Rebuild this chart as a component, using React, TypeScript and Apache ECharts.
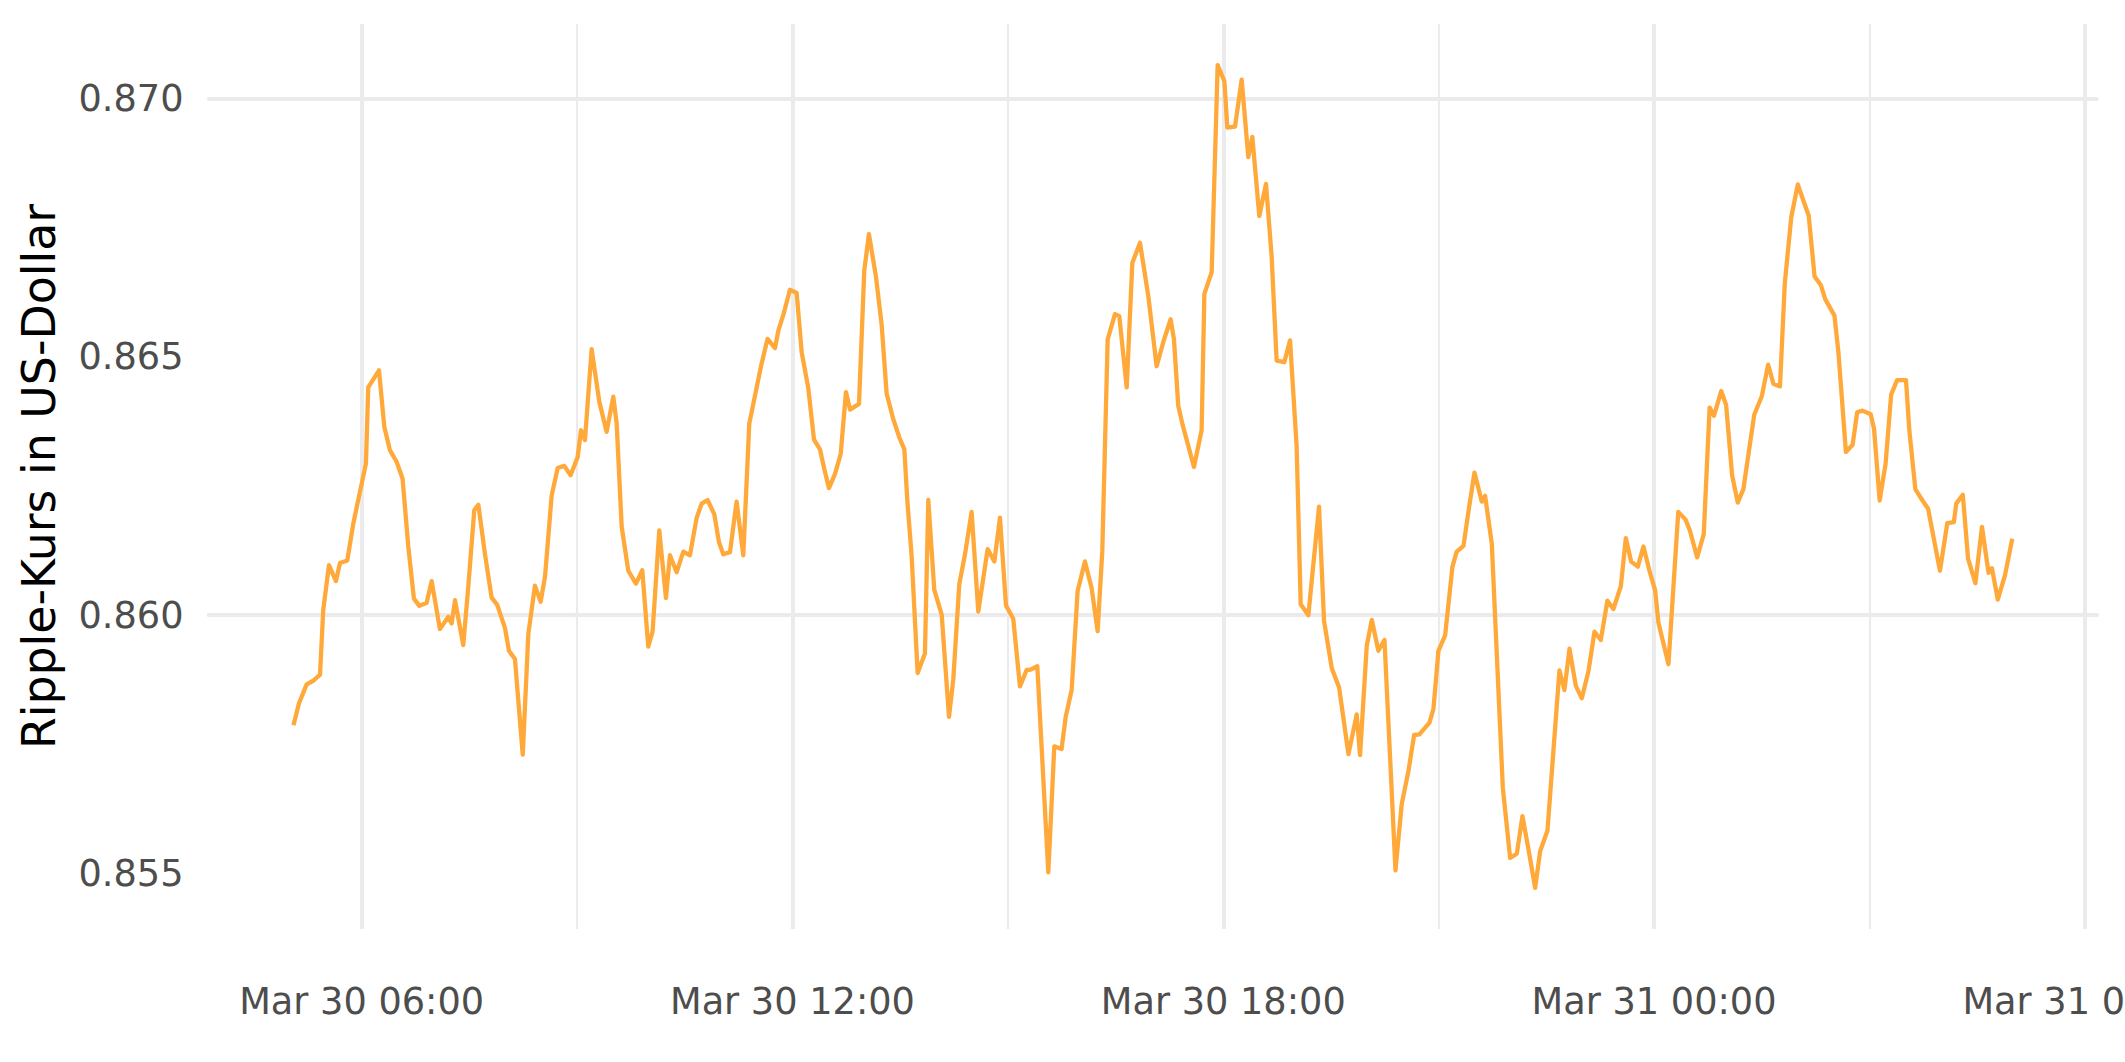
import React, { useEffect, useRef } from "react";
import * as echarts from "echarts";

// Minutes after Mar 30 00:00 and Ripple price (USD), in five stretches.
const minutesA = [303, 307.6, 314, 319.6, 325.2, 327.9, 332.7, 338.5, 341.9, 348, 353, 359.4, 363.6, 365.5, 374.5, 378.9, 383.7, 389.2, 394.2, 399, 403.7, 408.2, 414.3, 418.5, 425.4, 432.4, 435.2, 438, 444.9, 449.1, 454.1, 457.5, 463, 468.6, 473.3, 479.8, 483.1, 488.1, 494.6, 499.3, 504.8, 509.6, 513.2, 518.8, 523.8, 529.3, 534.6, 540.5, 543.3, 546.6, 552.2, 558.6, 564.7, 570.3, 573.1, 577.3, 582.8, 589.2];
const priceA = [0.85787, 0.85829, 0.85866, 0.85873, 0.85885, 0.8601, 0.86097, 0.86066, 0.86101, 0.86106, 0.86177, 0.86248, 0.86294, 0.86441, 0.86474, 0.86365, 0.86319, 0.86297, 0.86264, 0.86132, 0.86032, 0.86018, 0.86024, 0.86066, 0.85973, 0.85997, 0.85984, 0.86029, 0.85942, 0.86055, 0.86203, 0.86214, 0.86119, 0.86034, 0.8602, 0.85975, 0.85931, 0.85915, 0.8573, 0.85964, 0.86057, 0.86026, 0.86074, 0.86232, 0.86285, 0.86289, 0.86271, 0.86306, 0.86358, 0.86339, 0.86515, 0.86413, 0.86355, 0.86423, 0.86371, 0.86171, 0.86086, 0.86061];

const minutesB = [594.5, 599.5, 603.1, 608.7, 614.3, 617.6, 623.2, 628.8, 634.3, 639.9, 644.1, 649.1, 654.7, 658.6, 662.2, 667.8, 673.3, 678.9, 683.9, 688.7, 693.7, 699.2, 705.4, 708.2, 712.9, 717.9, 723.5, 727.7, 733.2, 738, 743, 746.6, 750.5, 755.5, 760.3, 764.7, 768.1, 775.6, 780, 783.9, 789.8, 794.5, 798.7, 804.3, 809.3, 813.5, 816, 819.6, 824.6, 830.7, 833.5, 838.5, 844.7, 850.8, 854.4, 859.4, 864.2, 869.7, 875.3];
const priceB = [0.86087, 0.85939, 0.85968, 0.86164, 0.86033, 0.86116, 0.86083, 0.86123, 0.86116, 0.86188, 0.86216, 0.86223, 0.86195, 0.86141, 0.86118, 0.86122, 0.8622, 0.86116, 0.86371, 0.86425, 0.86482, 0.86535, 0.86517, 0.86551, 0.86586, 0.8663, 0.86624, 0.86509, 0.8644, 0.8634, 0.86321, 0.86283, 0.86246, 0.86273, 0.86312, 0.86432, 0.86398, 0.86409, 0.86667, 0.86738, 0.86655, 0.86563, 0.86429, 0.86379, 0.86344, 0.86321, 0.86221, 0.86114, 0.85888, 0.85926, 0.86223, 0.86049, 0.86001, 0.85803, 0.85876, 0.8606, 0.86118, 0.862, 0.86007];

const minutesC = [883.1, 888.7, 893.4, 898.4, 904.5, 910.1, 915.7, 918.5, 924.6, 933.8, 938.8, 944.9, 948.3, 953.3, 958.3, 964.4, 970, 975, 978.9, 983.4, 989.5, 993.1, 999.3, 1004, 1010.4, 1017.4, 1024.3, 1029.9, 1036, 1038.8, 1042.4, 1046.1, 1055.5, 1061.9, 1064.2, 1070.3, 1075.3, 1080.9, 1083.4, 1089.8, 1095.4, 1100.9, 1104.3, 1110.1, 1115.7, 1120.4, 1124.6, 1131, 1135.8, 1141.3, 1144.7, 1151.1, 1154.4, 1160];
const priceC = [0.86128, 0.86104, 0.86189, 0.86019, 0.85993, 0.85862, 0.85894, 0.85894, 0.85901, 0.85502, 0.85746, 0.85741, 0.85803, 0.85855, 0.86047, 0.86104, 0.86052, 0.85969, 0.86124, 0.86534, 0.86583, 0.86579, 0.86441, 0.86682, 0.86721, 0.86617, 0.86482, 0.86529, 0.86573, 0.86534, 0.86405, 0.86368, 0.86287, 0.86358, 0.86622, 0.86664, 0.87065, 0.87034, 0.86944, 0.86946, 0.87037, 0.86887, 0.86926, 0.86773, 0.86835, 0.86695, 0.86493, 0.8649, 0.86532, 0.86327, 0.86021, 0.86, 0.86078, 0.8621];

const minutesD = [1164.2, 1170.7, 1176.8, 1184.6, 1191.5, 1194.3, 1199.9, 1204.1, 1209.6, 1214.7, 1223.9, 1229.1, 1234.7, 1239.5, 1243.9, 1252.3, 1255.6, 1259.8, 1265.4, 1271.5, 1275.1, 1280.7, 1285.4, 1289.9, 1296, 1298.8, 1304.4, 1313.6, 1319.7, 1325.3, 1330, 1335, 1340.6, 1344.8, 1350.9, 1360.9, 1365.1, 1369.3, 1374.6, 1379.6, 1385.2, 1390.2, 1395.5, 1401, 1406, 1412.2, 1416.4, 1420.8, 1426.4, 1431.1, 1436.1, 1440.9, 1443.6, 1452];
const priceD = [0.85989, 0.85897, 0.8586, 0.85731, 0.85808, 0.85729, 0.85941, 0.85991, 0.85931, 0.85952, 0.85506, 0.85634, 0.85698, 0.85768, 0.85769, 0.85792, 0.85818, 0.85931, 0.85961, 0.86094, 0.86123, 0.86134, 0.86209, 0.86276, 0.8622, 0.86231, 0.86138, 0.85666, 0.8553, 0.85538, 0.85611, 0.85547, 0.85472, 0.85543, 0.85583, 0.85893, 0.85855, 0.85935, 0.85863, 0.85839, 0.85892, 0.85968, 0.85952, 0.86028, 0.86012, 0.86056, 0.86149, 0.86104, 0.86094, 0.86133, 0.86086, 0.86048, 0.85986, 0.85905];

const minutesE = [1460.2, 1466.3, 1469.9, 1476, 1481.5, 1486.4, 1490, 1496.1, 1500.2, 1505.2, 1509.9, 1514.6, 1523.7, 1530, 1535.3, 1539.7, 1545.2, 1549.2, 1554.6, 1560.1, 1565, 1569.2, 1574.1, 1579.4, 1583, 1590.7, 1594, 1600.3, 1605.9, 1609.7, 1614.1, 1621, 1623.8, 1628.5, 1633.4, 1638.1, 1643.1, 1650.5, 1653.3, 1658.3, 1664.3, 1669, 1674, 1678.9, 1685, 1690.5, 1692.5, 1698, 1702.4, 1708.5, 1714, 1719.5, 1722.3, 1727.2, 1733.3, 1739.3];
const priceE = [0.862, 0.86185, 0.86164, 0.86112, 0.86157, 0.86402, 0.86386, 0.86434, 0.86407, 0.86271, 0.86218, 0.86244, 0.86388, 0.86424, 0.86485, 0.86448, 0.86443, 0.86642, 0.8677, 0.86834, 0.86801, 0.86774, 0.86656, 0.86639, 0.86612, 0.8658, 0.8651, 0.86316, 0.8633, 0.86393, 0.86396, 0.86389, 0.86361, 0.86222, 0.86292, 0.86427, 0.86455, 0.86455, 0.86358, 0.86244, 0.86222, 0.86206, 0.86145, 0.86086, 0.86178, 0.8618, 0.86216, 0.86233, 0.86109, 0.86062, 0.86171, 0.86082, 0.86091, 0.8603, 0.86078, 0.86148];

// Axis breaks
const xMajorTicks = [360, 720, 1080, 1440, 1800];
const xMinorTicks = [540, 900, 1260, 1620];
const yMajorTicks = [0.855, 0.86, 0.865, 0.87];
const yMinorTicks = [0.8575, 0.8625, 0.8675];

const minutes = [...minutesA, ...minutesB, ...minutesC, ...minutesD, ...minutesE];
const price = [...priceA, ...priceB, ...priceC, ...priceD, ...priceE];

const pad = (n: number) => (n < 10 ? "0" + n : "" + n);
const fmtTime = (m: number) => {
  const day = 30 + Math.floor(m / 1440);
  const hh = Math.floor((m % 1440) / 60);
  const mm = Math.round(m % 60);
  return `Mar ${day} ${pad(hh)}:${pad(mm)}`;
};

export default function App() {
  const ref = useRef<HTMLDivElement>(null);
  useEffect(() => {
    if (!ref.current) return;
    const chart = echarts.init(ref.current, undefined, { renderer: "svg" });
    const data = minutes.map((m, i) => [m, price[i]]);
    const xMin0 = Math.min(...minutes);
    const xMax0 = Math.max(...minutes);
    const yMin0 = Math.min(...price);
    const yMax0 = Math.max(...price);
    const xPad = (xMax0 - xMin0) * 0.05;
    const yPad = (yMax0 - yMin0) * 0.05;
    const gridColor = "#ebebeb";
    const font = "DejaVu Sans";
    const major = { width: 4, color: gridColor, type: "solid" as const };
    const minor = { width: 2.1, color: gridColor, type: "solid" as const };
    const markData = [
      ...xMajorTicks.map((v) => ({ xAxis: v, lineStyle: major })),
      ...xMinorTicks.map((v) => ({ xAxis: v, lineStyle: minor })),
      ...yMajorTicks.map((v) => ({ yAxis: v, lineStyle: major })),
      ...yMinorTicks.map((v) => ({ yAxis: v, lineStyle: minor })),
    ];
    chart.setOption({
      animation: false,
      backgroundColor: "#ffffff",
      grid: {
        left: 207.5,
        top: 24,
        width: 1890.7,
        height: 905,
        containLabel: false,
        outerBoundsMode: "none",
      },
      xAxis: {
        type: "value",
        min: xMin0 - xPad,
        max: xMax0 + xPad,
        axisLine: { show: false },
        axisTick: { show: false },
        splitLine: { show: false },
        axisLabel: {
          customValues: xMajorTicks,
          formatter: (v: number) => fmtTime(v),
          fontFamily: font,
          fontSize: 36.7,
          color: "#4d4d4d",
          margin: 54,
          hideOverlap: false,
        },
      },
      yAxis: {
        type: "value",
        min: yMin0 - yPad,
        max: yMax0 + yPad,
        axisLine: { show: false },
        axisTick: { show: false },
        splitLine: { show: false },
        axisLabel: {
          customValues: yMajorTicks,
          formatter: (v: number) => v.toFixed(3),
          fontFamily: font,
          fontSize: 36.7,
          color: "#4d4d4d",
          margin: 24,
        },
        name: "Ripple-Kurs in US-Dollar",
        nameLocation: "middle",
        nameGap: 146,
        nameTextStyle: { fontFamily: font, fontSize: 45.8, color: "#000000" },
      },
      series: [
        {
          type: "line",
          data,
          silent: true,
          showSymbol: false,
          symbol: "none",
          lineStyle: { opacity: 0, width: 0 },
          z: 1,
          markLine: {
            silent: true,
            symbol: ["none", "none"],
            label: { show: false },
            lineStyle: { type: "solid", color: gridColor },
            emphasis: { disabled: true },
            animation: false,
            z: 1,
            data: markData,
          },
        },
        {
          type: "line",
          data,
          showSymbol: false,
          symbol: "none",
          z: 10,
          lineStyle: { color: "#ffa93a", width: 4.3, join: "round" },
        },
      ],
    });
    return () => chart.dispose();
  }, []);
  return (
    <div
      ref={ref}
      style={{ position: "fixed", left: 0, top: 0, width: 2125, height: 1062, background: "#fff" }}
    />
  );
}
